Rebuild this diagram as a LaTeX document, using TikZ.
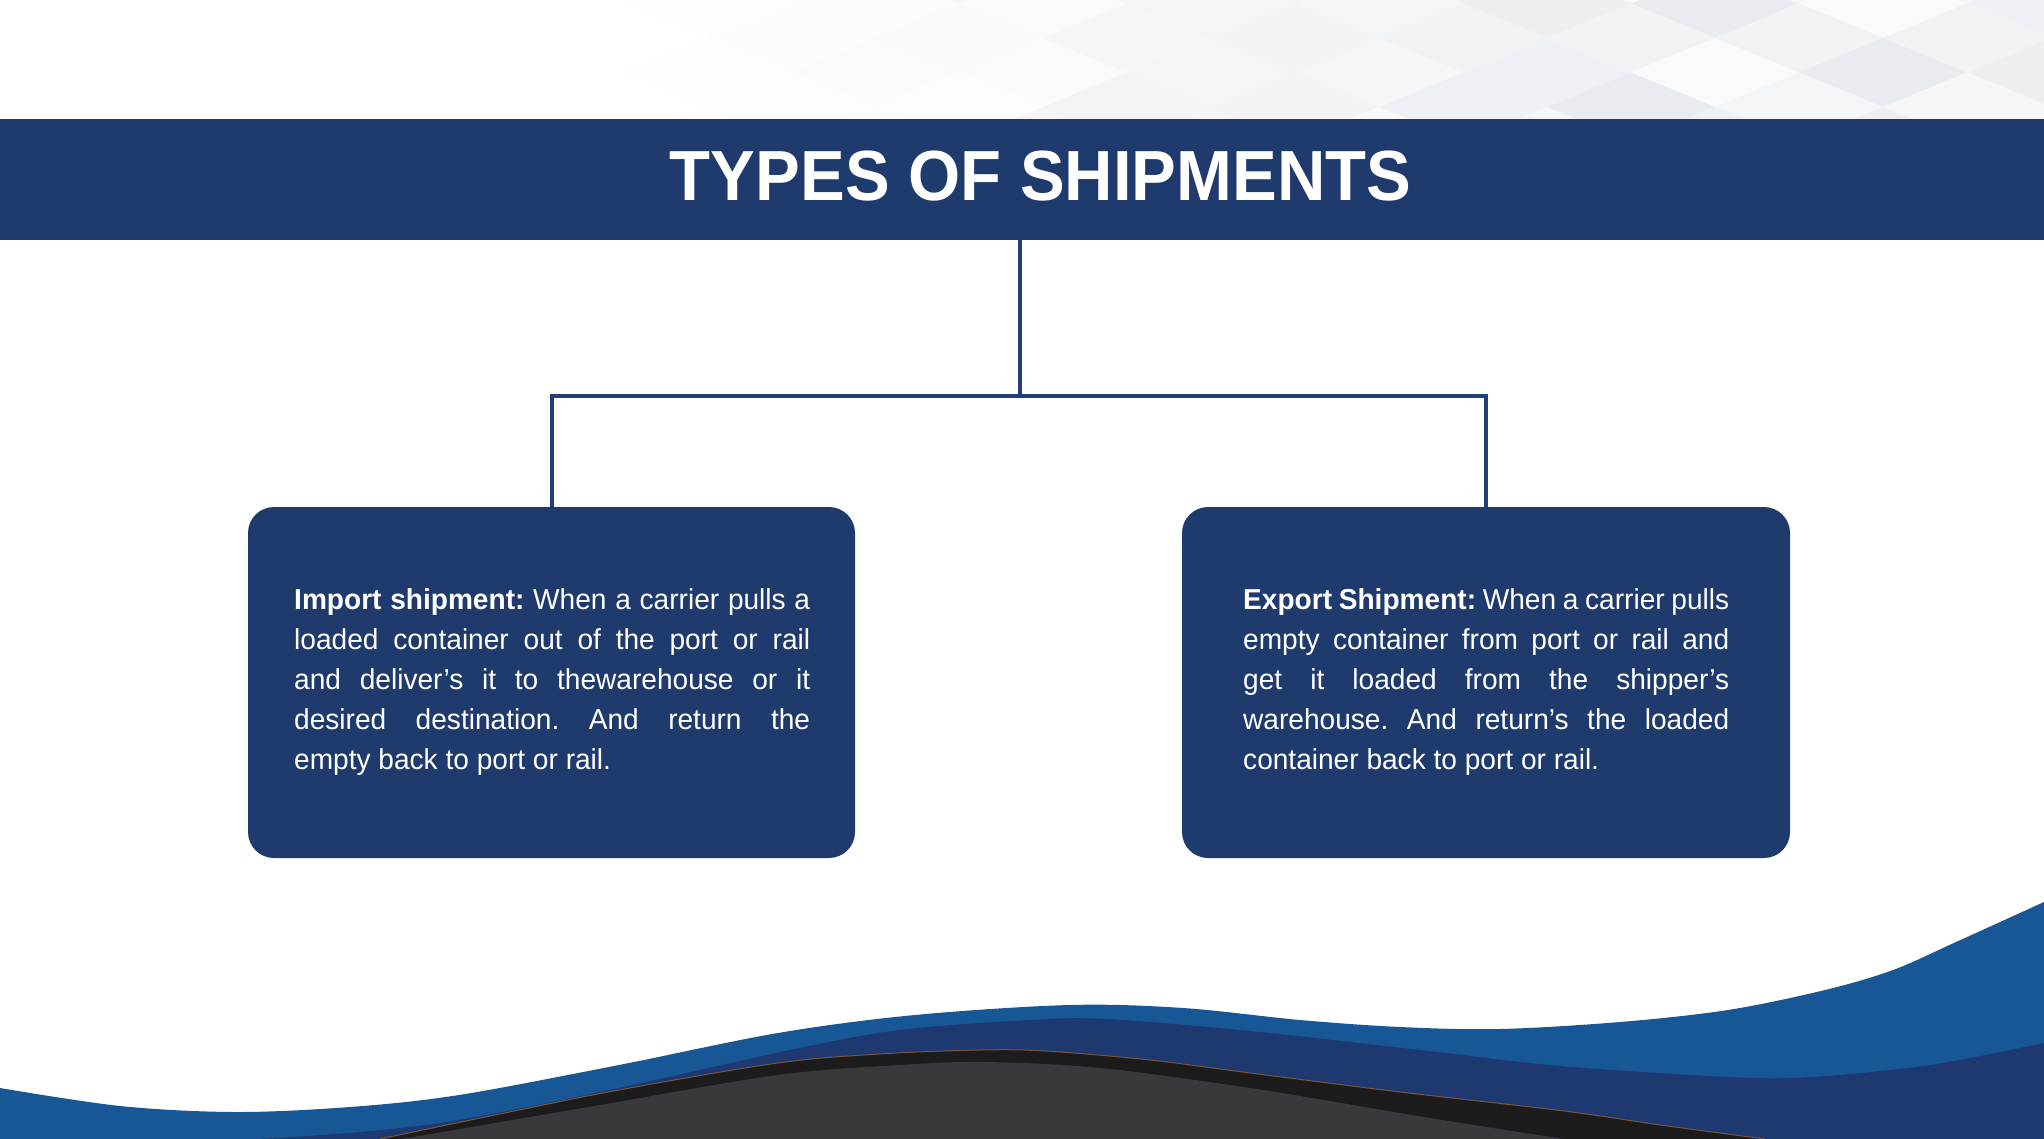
\documentclass[tikz,border=0pt]{standalone}
\usepackage{graphicx}
\usepackage{fontspec}
\setmainfont{Liberation Sans}
\definecolor{navy}{HTML}{1F3A6D}
\definecolor{connc}{HTML}{223E75}
\definecolor{waveA}{HTML}{175796}
\definecolor{waveB}{HTML}{1E3870}
\definecolor{waveC}{HTML}{1C1C1C}
\definecolor{waveD}{HTML}{39393D}
\definecolor{edgeor}{HTML}{B87333}
\definecolor{dia0}{HTML}{F6F6F6}
\definecolor{dia1}{HTML}{EEEEEE}
\definecolor{dia2}{HTML}{EDF1F5}
\definecolor{dia3}{HTML}{F3F6F9}
\definecolor{dia4}{HTML}{FAFAFA}
\definecolor{dia5}{HTML}{F0F2F4}
\definecolor{dia6}{HTML}{E8ECF0}
\tikzset{
  infobox/.style={fill=navy, rounded corners=26pt, inner sep=0pt, draw=none},
  bodytext/.style={anchor=base west, inner sep=0pt, text=white},
  conn/.style={draw=connc, line width=4pt},
}
\newcommand{\bodyfont}{\fontsize{28.8}{40}\selectfont\frenchspacing\spaceskip=.278em plus .6em minus .12em\relax}
\begin{document}
\begin{tikzpicture}[x=1pt,y=-1pt]
\useasboundingbox (0,0) rectangle (2044,1139);
\fill[white] (0,0) rectangle (2044,1139);
% faint diamond mosaic at the top
\begin{scope}
\clip (0,0) rectangle (2044,119);
\foreach \j in {0,...,5}{
  \foreach \k in {-5,...,7}{
    \pgfmathsetmacro\cx{1127+168*\k-84*mod(\j,2)}
    \pgfmathsetmacro\cy{-31+34.5*\j}
    \pgfmathsetmacro\al{max(0,min(1,(\cx-680)/700))}
    \pgfmathtruncatemacro\ci{mod(100+3*\k+5*\j+2*\k*\j,7)}
    \fill[dia\ci, fill opacity=\al] ({\cx-84},\cy) -- (\cx,{\cy-34.5}) -- ({\cx+84},\cy) -- (\cx,{\cy+34.5}) -- cycle;
  }
}
\end{scope}
% title bar
\node[fill=navy, minimum width=2044pt, minimum height=121pt, inner sep=0pt, anchor=north west] (bar) at (0,119) {};
\node[anchor=base, inner sep=0pt, text=white, font=\fontsize{71}{80}\selectfont\bfseries] (title) at (1040.5,201) {\scalebox{0.944}[1]{TYPES OF SHIPMENTS}};
% waves
\fill[waveA] plot[smooth, tension=0.55] coordinates {(0,1088) (120,1106) (235,1112) (350,1107) (459,1095) (619,1065) (778,1033) (915,1015) (1070,1005) (1183,1008) (1300,1020) (1400,1027) (1500,1029) (1620,1022) (1728,1010) (1825,990) (1893,970) (1956,942) (2044,902)} -- (2044,1139) -- (0,1139) -- cycle;
\fill[waveB] plot[smooth, tension=0.55] coordinates {(261,1139) (360,1132) (459,1120) (619,1088) (790,1050) (900,1030) (1030,1020) (1106,1019) (1250,1031) (1420,1050) (1560,1066) (1728,1077) (1811,1077) (1930,1065) (2044,1043)} -- (2044,1139) -- cycle;
\fill[waveC] plot[smooth, tension=0.55] coordinates {(380,1139) (500,1114) (619,1090) (778,1063) (880,1054) (980,1050) (1045,1051) (1150,1060) (1250,1073) (1400,1092) (1564,1111) (1660,1125) (1765,1139)} -- cycle;
\draw[edgeor, line width=1pt, opacity=0.6] plot[smooth, tension=0.55] coordinates {(380,1139) (500,1114) (619,1090) (778,1063) (880,1054) (980,1050) (1045,1051) (1150,1060) (1250,1073) (1400,1092) (1564,1111) (1660,1125) (1765,1139)};
\fill[waveD] plot[smooth, tension=0.55] coordinates {(402,1139) (600,1105) (778,1075) (900,1065) (985,1062) (1100,1068) (1250,1088) (1400,1113) (1480,1126) (1564,1139)} -- cycle;
% boxes
\node[infobox, minimum width=607pt, minimum height=351pt] (lbox) at (551.5,682.5) {};
\node[infobox, minimum width=608pt, minimum height=351pt] (rbox) at (1486,682.5) {};
\node[bodytext] (ltext) at (294,609) {\scalebox{0.975}[1]{\parbox[t]{529.2pt}{\bodyfont
\makebox[529.2pt][s]{\textbf{Import shipment:} When a carrier pulls a}\\
\makebox[529.2pt][s]{loaded container out of the port or rail}\\
\makebox[529.2pt][s]{and deliver’s it to thewarehouse or it}\\
\makebox[529.2pt][s]{desired destination. And return the}\\
empty back to port or rail.}}};
\node[bodytext] (rtext) at (1243,609) {\scalebox{0.975}[1]{\parbox[t]{498.5pt}{\bodyfont
\makebox[498.5pt][s]{\textbf{Export Shipment:} When a carrier pulls}\\
\makebox[498.5pt][s]{empty container from port or rail and}\\
\makebox[498.5pt][s]{get it loaded from the shipper’s}\\
\makebox[498.5pt][s]{warehouse. And return’s the loaded}\\
container back to port or rail.}}};
% connectors
\coordinate (junc) at (1020,396);
\draw[conn] (bar.south -| junc) -- (junc);
\draw[conn] (lbox.north) |- (junc) -| (rbox.north);
\end{tikzpicture}
\end{document}
